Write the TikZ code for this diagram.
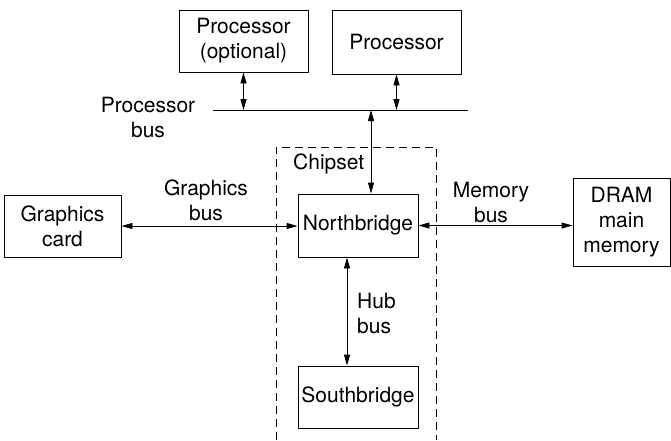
\documentclass[tikz,border=0pt]{standalone}
\usepackage{fontspec}
\setmainfont{TeX Gyre Heros}
\usetikzlibrary{arrows.meta}
\tikzset{blk/.style={draw,line width=0.9pt,inner sep=0pt,align=center},
	lbl/.style={align=center,inner sep=0pt}}
\begin{document}
\begin{tikzpicture}[x=1pt,y=-1pt,>={Triangle[length=11pt,width=6pt]},line join=round,font=\fontsize{21}{25}\selectfont]
	\useasboundingbox (0,0) rectangle (671,440);
	\node[blk,minimum width=129,minimum height=62] (popt) at (243.5,41) {Processor\\(optional)};
	\node[blk,minimum width=129,minimum height=64] (proc) at (396.5,42) {Processor};
	\node[blk,minimum width=120,minimum height=63] (nb) at (358,225.5) {Northbridge};
	\node[blk,minimum width=120,minimum height=62] (sb) at (358,397) {Southbridge};
	\node[blk,minimum width=117,minimum height=62] (gc) at (62.5,226) {Graphics\\card};
	\node[blk,minimum width=97,minimum height=88] (dram) at (621.5,222) {DRAM\\main\\memory};
	% processor bus
	\coordinate (busL) at (213,110);
	\coordinate (busR) at (468,110);
	\coordinate (busN) at (371,110);
	\draw[line width=0.9pt] (busL) -- (busR);
	\node[lbl] (pbus) at (148,117) {Processor\\bus};
	\draw[<->,line width=0.9pt] (popt.south) -- (popt.south |- busL);
	\draw[<->,line width=0.9pt] (proc.south) -- (proc.south |- busL);
	\draw[<->,line width=0.9pt] (busN) -- (busN |- nb.north);
	% chipset
	\draw[dashed,dash pattern=on 8pt off 5pt,line width=0.9pt] (276,440) -- (276,147) -- (436,147) -- (436,440);
	\node[lbl,anchor=west] (chip) at (293,164) {Chipset};
	% buses
	\draw[<->,line width=0.9pt] (gc.east) -- (gc.east -| nb.west);
	\node[lbl] (gbus) at (206,200) {Graphics\\bus};
	\draw[<->,line width=0.9pt] (nb.east) -- (nb.east -| dram.west);
	\node[lbl] (mbus) at (491,202) {Memory\\bus};
	\draw[<->,line width=0.9pt] ([xshift=-11pt]nb.south) -- ([xshift=-11pt]sb.north);
	\node[lbl,align=left,anchor=west] (hbus) at (357,313) {Hub\\bus};
\end{tikzpicture}
\end{document}
